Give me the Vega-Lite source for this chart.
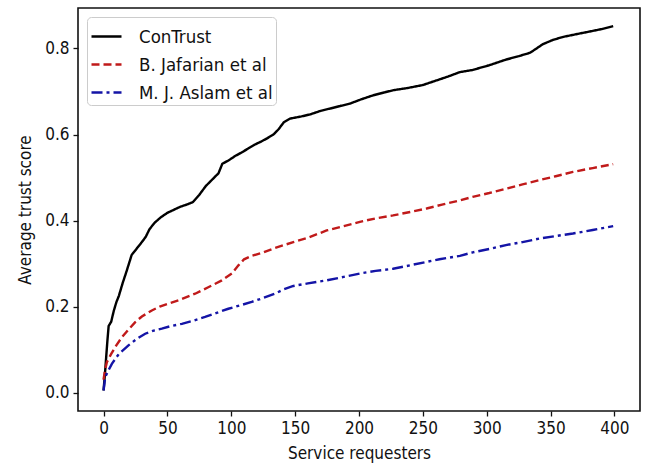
{
  "$schema": "https://vega.github.io/schema/vega-lite/v6.json",
  "autosize": "none",
  "width": 562,
  "height": 403,
  "padding": {"left": 78, "top": 8, "right": 7, "bottom": 57},
  "background": "white",
  "config": {
    "font": "DejaVu Sans Condensed, DejaVu Sans",
    "view": {"stroke": "#111111", "strokeWidth": 1.6},
    "axis": {
      "domain": false,
      "grid": false,
      "tickColor": "#111111",
      "tickSize": 5,
      "tickWidth": 1.3,
      "labelColor": "#111111",
      "labelFontSize": 17,
      "labelPadding": 4,
      "titleColor": "#111111",
      "titleFontSize": 17,
      "titleFontWeight": "normal"
    }
  },
  "data": {
    "values": [
      {"requesters": 0, "score": 0.005, "method": "ConTrust"},
      {"requesters": 1, "score": 0.04, "method": "ConTrust"},
      {"requesters": 2, "score": 0.08, "method": "ConTrust"},
      {"requesters": 3, "score": 0.12, "method": "ConTrust"},
      {"requesters": 4, "score": 0.155, "method": "ConTrust"},
      {"requesters": 6, "score": 0.165, "method": "ConTrust"},
      {"requesters": 8, "score": 0.19, "method": "ConTrust"},
      {"requesters": 10, "score": 0.21, "method": "ConTrust"},
      {"requesters": 12, "score": 0.225, "method": "ConTrust"},
      {"requesters": 15, "score": 0.255, "method": "ConTrust"},
      {"requesters": 18, "score": 0.282, "method": "ConTrust"},
      {"requesters": 22, "score": 0.32, "method": "ConTrust"},
      {"requesters": 26, "score": 0.335, "method": "ConTrust"},
      {"requesters": 30, "score": 0.35, "method": "ConTrust"},
      {"requesters": 33, "score": 0.362, "method": "ConTrust"},
      {"requesters": 36, "score": 0.38, "method": "ConTrust"},
      {"requesters": 40, "score": 0.395, "method": "ConTrust"},
      {"requesters": 45, "score": 0.408, "method": "ConTrust"},
      {"requesters": 50, "score": 0.418, "method": "ConTrust"},
      {"requesters": 55, "score": 0.425, "method": "ConTrust"},
      {"requesters": 60, "score": 0.432, "method": "ConTrust"},
      {"requesters": 65, "score": 0.437, "method": "ConTrust"},
      {"requesters": 70, "score": 0.443, "method": "ConTrust"},
      {"requesters": 75, "score": 0.46, "method": "ConTrust"},
      {"requesters": 80, "score": 0.48, "method": "ConTrust"},
      {"requesters": 85, "score": 0.495, "method": "ConTrust"},
      {"requesters": 90, "score": 0.51, "method": "ConTrust"},
      {"requesters": 93, "score": 0.532, "method": "ConTrust"},
      {"requesters": 98, "score": 0.54, "method": "ConTrust"},
      {"requesters": 103, "score": 0.55, "method": "ConTrust"},
      {"requesters": 108, "score": 0.558, "method": "ConTrust"},
      {"requesters": 113, "score": 0.567, "method": "ConTrust"},
      {"requesters": 118, "score": 0.576, "method": "ConTrust"},
      {"requesters": 123, "score": 0.583, "method": "ConTrust"},
      {"requesters": 128, "score": 0.591, "method": "ConTrust"},
      {"requesters": 133, "score": 0.6, "method": "ConTrust"},
      {"requesters": 137, "score": 0.612, "method": "ConTrust"},
      {"requesters": 141, "score": 0.628, "method": "ConTrust"},
      {"requesters": 146, "score": 0.637, "method": "ConTrust"},
      {"requesters": 155, "score": 0.642, "method": "ConTrust"},
      {"requesters": 162, "score": 0.647, "method": "ConTrust"},
      {"requesters": 170, "score": 0.655, "method": "ConTrust"},
      {"requesters": 177, "score": 0.66, "method": "ConTrust"},
      {"requesters": 185, "score": 0.666, "method": "ConTrust"},
      {"requesters": 193, "score": 0.672, "method": "ConTrust"},
      {"requesters": 202, "score": 0.682, "method": "ConTrust"},
      {"requesters": 211, "score": 0.691, "method": "ConTrust"},
      {"requesters": 220, "score": 0.698, "method": "ConTrust"},
      {"requesters": 227, "score": 0.703, "method": "ConTrust"},
      {"requesters": 238, "score": 0.708, "method": "ConTrust"},
      {"requesters": 250, "score": 0.715, "method": "ConTrust"},
      {"requesters": 261, "score": 0.726, "method": "ConTrust"},
      {"requesters": 270, "score": 0.735, "method": "ConTrust"},
      {"requesters": 279, "score": 0.745, "method": "ConTrust"},
      {"requesters": 289, "score": 0.75, "method": "ConTrust"},
      {"requesters": 302, "score": 0.761, "method": "ConTrust"},
      {"requesters": 315, "score": 0.774, "method": "ConTrust"},
      {"requesters": 325, "score": 0.782, "method": "ConTrust"},
      {"requesters": 334, "score": 0.79, "method": "ConTrust"},
      {"requesters": 344, "score": 0.81, "method": "ConTrust"},
      {"requesters": 352, "score": 0.82, "method": "ConTrust"},
      {"requesters": 360, "score": 0.827, "method": "ConTrust"},
      {"requesters": 370, "score": 0.833, "method": "ConTrust"},
      {"requesters": 380, "score": 0.839, "method": "ConTrust"},
      {"requesters": 390, "score": 0.845, "method": "ConTrust"},
      {"requesters": 399, "score": 0.852, "method": "ConTrust"},

      {"requesters": 0, "score": 0.03, "method": "B. Jafarian et al"},
      {"requesters": 1, "score": 0.05, "method": "B. Jafarian et al"},
      {"requesters": 2.6, "score": 0.071, "method": "B. Jafarian et al"},
      {"requesters": 6, "score": 0.09, "method": "B. Jafarian et al"},
      {"requesters": 10, "score": 0.11, "method": "B. Jafarian et al"},
      {"requesters": 14.4, "score": 0.129, "method": "B. Jafarian et al"},
      {"requesters": 19, "score": 0.145, "method": "B. Jafarian et al"},
      {"requesters": 24.8, "score": 0.164, "method": "B. Jafarian et al"},
      {"requesters": 30, "score": 0.177, "method": "B. Jafarian et al"},
      {"requesters": 37.8, "score": 0.191, "method": "B. Jafarian et al"},
      {"requesters": 44, "score": 0.2, "method": "B. Jafarian et al"},
      {"requesters": 50.8, "score": 0.207, "method": "B. Jafarian et al"},
      {"requesters": 60, "score": 0.216, "method": "B. Jafarian et al"},
      {"requesters": 71.7, "score": 0.23, "method": "B. Jafarian et al"},
      {"requesters": 82, "score": 0.245, "method": "B. Jafarian et al"},
      {"requesters": 92.6, "score": 0.261, "method": "B. Jafarian et al"},
      {"requesters": 100.4, "score": 0.277, "method": "B. Jafarian et al"},
      {"requesters": 105.6, "score": 0.296, "method": "B. Jafarian et al"},
      {"requesters": 110, "score": 0.31, "method": "B. Jafarian et al"},
      {"requesters": 116, "score": 0.318, "method": "B. Jafarian et al"},
      {"requesters": 125, "score": 0.326, "method": "B. Jafarian et al"},
      {"requesters": 133, "score": 0.335, "method": "B. Jafarian et al"},
      {"requesters": 148.6, "score": 0.35, "method": "B. Jafarian et al"},
      {"requesters": 160, "score": 0.36, "method": "B. Jafarian et al"},
      {"requesters": 174.7, "score": 0.377, "method": "B. Jafarian et al"},
      {"requesters": 188, "score": 0.387, "method": "B. Jafarian et al"},
      {"requesters": 200.7, "score": 0.397, "method": "B. Jafarian et al"},
      {"requesters": 213, "score": 0.405, "method": "B. Jafarian et al"},
      {"requesters": 226.7, "score": 0.412, "method": "B. Jafarian et al"},
      {"requesters": 240, "score": 0.42, "method": "B. Jafarian et al"},
      {"requesters": 252.9, "score": 0.428, "method": "B. Jafarian et al"},
      {"requesters": 265, "score": 0.437, "method": "B. Jafarian et al"},
      {"requesters": 279, "score": 0.447, "method": "B. Jafarian et al"},
      {"requesters": 289, "score": 0.455, "method": "B. Jafarian et al"},
      {"requesters": 302, "score": 0.464, "method": "B. Jafarian et al"},
      {"requesters": 315, "score": 0.474, "method": "B. Jafarian et al"},
      {"requesters": 328, "score": 0.484, "method": "B. Jafarian et al"},
      {"requesters": 341, "score": 0.494, "method": "B. Jafarian et al"},
      {"requesters": 354, "score": 0.503, "method": "B. Jafarian et al"},
      {"requesters": 367.5, "score": 0.513, "method": "B. Jafarian et al"},
      {"requesters": 383, "score": 0.522, "method": "B. Jafarian et al"},
      {"requesters": 399, "score": 0.531, "method": "B. Jafarian et al"},

      {"requesters": 0, "score": 0.005, "method": "M. J. Aslam et al"},
      {"requesters": 1.3, "score": 0.036, "method": "M. J. Aslam et al"},
      {"requesters": 3.5, "score": 0.05, "method": "M. J. Aslam et al"},
      {"requesters": 6.5, "score": 0.067, "method": "M. J. Aslam et al"},
      {"requesters": 12, "score": 0.09, "method": "M. J. Aslam et al"},
      {"requesters": 19.5, "score": 0.11, "method": "M. J. Aslam et al"},
      {"requesters": 26, "score": 0.125, "method": "M. J. Aslam et al"},
      {"requesters": 32.6, "score": 0.137, "method": "M. J. Aslam et al"},
      {"requesters": 40, "score": 0.145, "method": "M. J. Aslam et al"},
      {"requesters": 45.6, "score": 0.149, "method": "M. J. Aslam et al"},
      {"requesters": 53, "score": 0.155, "method": "M. J. Aslam et al"},
      {"requesters": 61.3, "score": 0.16, "method": "M. J. Aslam et al"},
      {"requesters": 70, "score": 0.167, "method": "M. J. Aslam et al"},
      {"requesters": 79.5, "score": 0.176, "method": "M. J. Aslam et al"},
      {"requesters": 88, "score": 0.185, "method": "M. J. Aslam et al"},
      {"requesters": 97.7, "score": 0.195, "method": "M. J. Aslam et al"},
      {"requesters": 107, "score": 0.203, "method": "M. J. Aslam et al"},
      {"requesters": 116, "score": 0.211, "method": "M. J. Aslam et al"},
      {"requesters": 125, "score": 0.22, "method": "M. J. Aslam et al"},
      {"requesters": 134.2, "score": 0.23, "method": "M. J. Aslam et al"},
      {"requesters": 141, "score": 0.24, "method": "M. J. Aslam et al"},
      {"requesters": 148.6, "score": 0.248, "method": "M. J. Aslam et al"},
      {"requesters": 160, "score": 0.254, "method": "M. J. Aslam et al"},
      {"requesters": 174.7, "score": 0.261, "method": "M. J. Aslam et al"},
      {"requesters": 188, "score": 0.269, "method": "M. J. Aslam et al"},
      {"requesters": 200.7, "score": 0.277, "method": "M. J. Aslam et al"},
      {"requesters": 213, "score": 0.283, "method": "M. J. Aslam et al"},
      {"requesters": 226.7, "score": 0.288, "method": "M. J. Aslam et al"},
      {"requesters": 240, "score": 0.296, "method": "M. J. Aslam et al"},
      {"requesters": 252.9, "score": 0.304, "method": "M. J. Aslam et al"},
      {"requesters": 263, "score": 0.31, "method": "M. J. Aslam et al"},
      {"requesters": 279, "score": 0.318, "method": "M. J. Aslam et al"},
      {"requesters": 289, "score": 0.326, "method": "M. J. Aslam et al"},
      {"requesters": 302, "score": 0.334, "method": "M. J. Aslam et al"},
      {"requesters": 315, "score": 0.343, "method": "M. J. Aslam et al"},
      {"requesters": 328, "score": 0.35, "method": "M. J. Aslam et al"},
      {"requesters": 341, "score": 0.358, "method": "M. J. Aslam et al"},
      {"requesters": 354, "score": 0.364, "method": "M. J. Aslam et al"},
      {"requesters": 367.5, "score": 0.37, "method": "M. J. Aslam et al"},
      {"requesters": 383, "score": 0.378, "method": "M. J. Aslam et al"},
      {"requesters": 399, "score": 0.387, "method": "M. J. Aslam et al"}
    ]
  },
  "mark": {"type": "line", "strokeWidth": 2.4, "clip": true},
  "encoding": {
    "x": {
      "field": "requesters",
      "type": "quantitative",
      "scale": {"domain": [-20, 420], "nice": false, "zero": false},
      "axis": {"values": [0, 50, 100, 150, 200, 250, 300, 350, 400], "title": "Service requesters", "titlePadding": 9}
    },
    "y": {
      "field": "score",
      "type": "quantitative",
      "scale": {"domain": [-0.0426, 0.894], "nice": false, "zero": false},
      "axis": {"values": [0, 0.2, 0.4, 0.6, 0.8], "format": ".1f", "title": "Average trust score", "titlePadding": 10}
    },
    "color": {
      "field": "method",
      "type": "nominal",
      "sort": ["ConTrust", "B. Jafarian et al", "M. J. Aslam et al"],
      "scale": {
        "domain": ["ConTrust", "B. Jafarian et al", "M. J. Aslam et al"],
        "range": ["#000000", "#c01a1a", "#1414a6"]
      },
      "legend": {
        "title": null,
        "orient": "none",
        "legendX": 9,
        "legendY": 9,
        "fillColor": "white",
        "strokeColor": "#cccccc",
        "cornerRadius": 4,
        "padding": 3,
        "symbolType": "stroke",
        "symbolSize": 900,
        "symbolStrokeWidth": 2.4,
        "labelFontSize": 18.5,
        "labelColor": "#111111",
        "labelOffset": 16,
        "rowPadding": 2,
        "labelLimit": 300
      }
    },
    "strokeDash": {
      "field": "method",
      "type": "nominal",
      "sort": ["ConTrust", "B. Jafarian et al", "M. J. Aslam et al"],
      "scale": {
        "domain": ["ConTrust", "B. Jafarian et al", "M. J. Aslam et al"],
        "range": [[1, 0], [8, 4], [11, 4, 3, 4]]
      },
      "legend": null
    }
  }
}
